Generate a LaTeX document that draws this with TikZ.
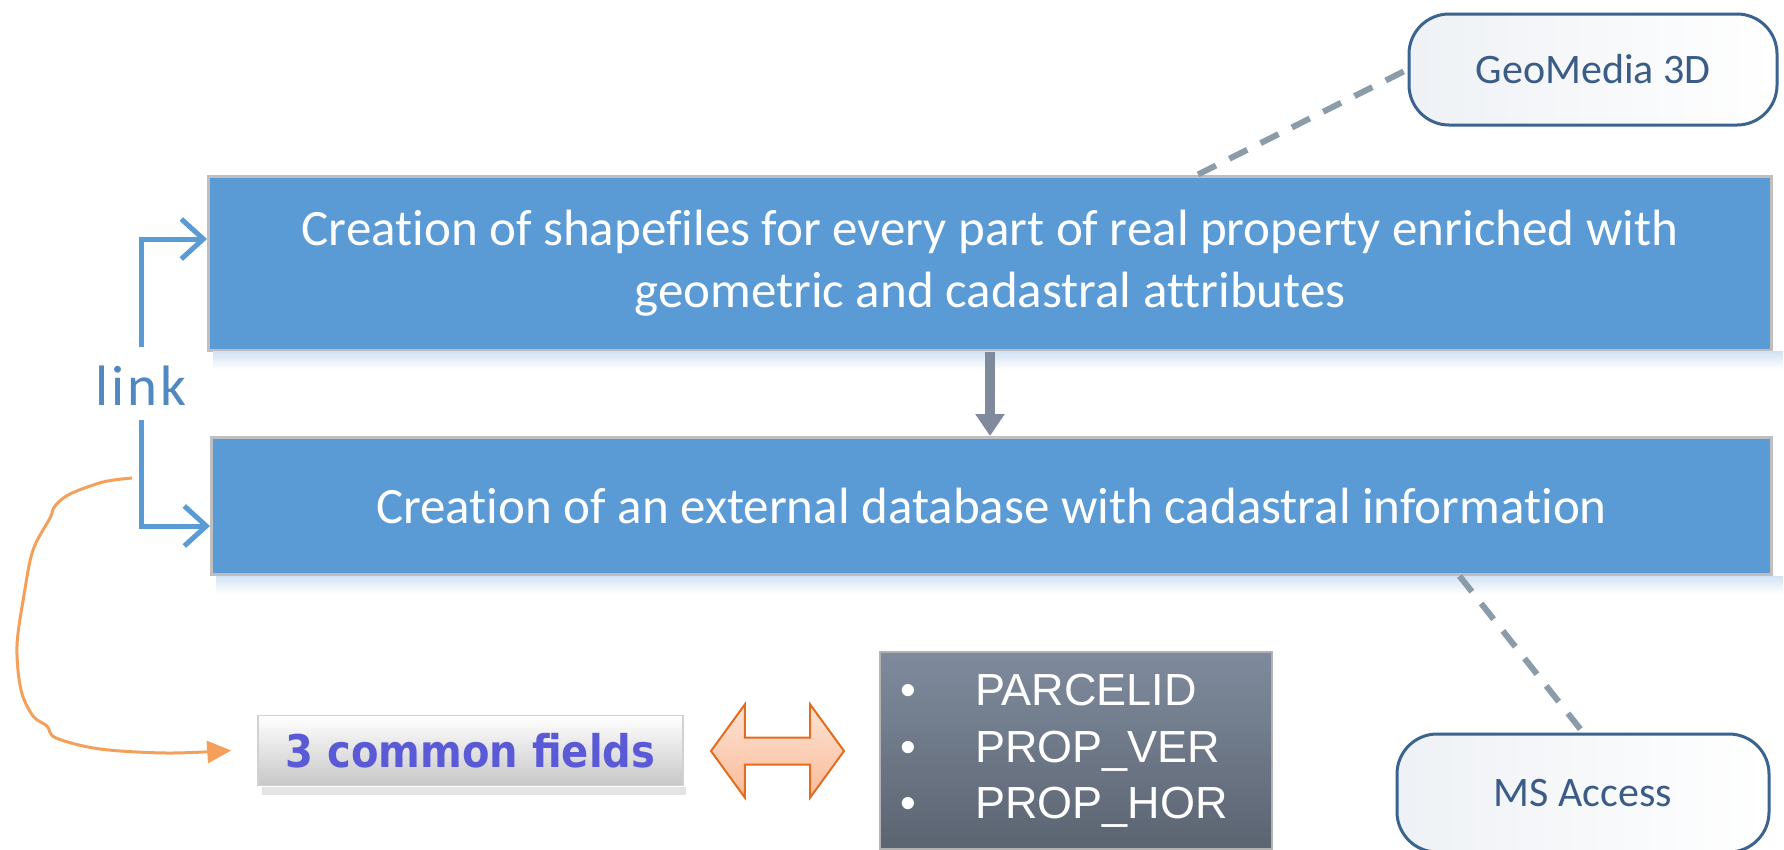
\documentclass[tikz,border=0pt]{standalone}
\usepackage{fontspec}
\setmainfont{Carlito}[Ligatures={NoCommon,NoRequired,NoContextual}]
\newfontfamily\linkfont{Carlito}[LetterSpace=5]
\newfontfamily\arialf{Liberation Sans}
\newfontfamily\verdf{DejaVu Sans}
\usetikzlibrary{arrows.meta,shapes.arrows,calc}
\definecolor{boxblue}{HTML}{5B9BD5}
\definecolor{boxborder}{HTML}{BFBFBF}
\definecolor{linkblue}{HTML}{5B9BD5}
\definecolor{linktext}{HTML}{4F89C0}
\definecolor{arrowgray}{HTML}{7F8A9C}
\definecolor{dashgray}{HTML}{8A9BAA}
\definecolor{roundborder}{HTML}{3B6390}
\definecolor{roundtext}{HTML}{3A5C86}
\definecolor{fieldtext}{HTML}{5B5AD6}
\definecolor{orangeline}{HTML}{F5A05A}
\definecolor{darrowborder}{HTML}{E46C1E}
\definecolor{darrowtop}{HTML}{FDE3D4}
\definecolor{darrowbot}{HTML}{F9BB9A}
\definecolor{graytop}{HTML}{7F8B9D}
\definecolor{graybot}{HTML}{5B6471}
\definecolor{shadowblue}{HTML}{D3E2F3}
\definecolor{roundfill}{HTML}{EEF1F5}
\tikzset{
  bluebox/.style={draw=boxborder, line width=3pt, fill=boxblue, text=white,
    align=center, inner sep=0pt, font=\fontsize{51}{62}\selectfont},
  roundbox/.style={draw=roundborder, line width=3pt, rounded corners=40pt,
    left color=roundfill, right color=white, text=roundtext, inner sep=0pt,
    font=\fontsize{42}{50}\selectfont},
  dashline/.style={draw=dashgray, line width=6pt, dash pattern=on 20pt off 15pt},
  linkarrow/.style={draw=linkblue, line width=5pt,
    -{Straight Barb[length=22pt,width=40pt]}},
  grayarrow/.style={draw=arrowgray, line width=10pt,
    -{Triangle[length=22pt,width=28pt]}},
  orangecurve/.style={draw=orangeline, line width=3pt,
    -{Triangle[length=24pt,width=22pt]}},
  fieldsbox/.style={draw=black!18, line width=1.5pt, top color=white, bottom color=black!22,
    text=fieldtext, inner sep=0pt, font=\verdf\fontsize{45}{54}\selectfont\bfseries},
  darrowshape/.style={double arrow, draw=darrowborder, line width=2pt,
    top color=darrowtop, bottom color=darrowbot, inner xsep=0pt, inner ysep=12.5pt,
    double arrow head extend=33pt, double arrow tip angle=108, minimum height=133pt},
  graybox/.style={draw=black!30, line width=1.5pt, top color=graytop, bottom color=graybot,
    inner sep=0pt},
  listtext/.style={text=white, align=left, inner sep=0pt,
    font=\arialf\fontsize{45}{56.5}\selectfont}
}
\begin{document}
\begin{tikzpicture}[x=1pt,y=-1pt]
\useasboundingbox (0,0) rectangle (1784,849);
\fill[white] (0,0) rectangle (1784,849);

% main boxes
\node[bluebox, minimum width=1563pt, minimum height=174pt] (box1) at (990,263)
  {Creation of shapefiles for every part of real property enriched with\\geometric and cadastral attributes};
\node[bluebox, minimum width=1560pt, minimum height=137pt] (box2) at (991.5,506)
  {Creation of an external database with cadastral information};
% soft shadows
\shade[top color=shadowblue, bottom color=white] ($(box1.south west)+(6,0)$) rectangle ($(box1.south east)+(10,18)$);
\shade[top color=shadowblue, bottom color=white] ($(box2.south west)+(6,0)$) rectangle ($(box2.south east)+(10,18)$);

% arrow between boxes
\draw[grayarrow] (box1.south) -- (box1.south |- box2.north);

% link bracket
\node[text=linktext, inner sep=0pt, font=\linkfont\fontsize{57}{60}\selectfont] (link) at (141,386) {link};
\draw[linkarrow] ([yshift=19pt]link.north) |- ([yshift=24pt]box1.west);
\draw[linkarrow] ([yshift=-14pt]link.south) |- ([yshift=-20pt]box2.west);

% side tools
\node[roundbox, minimum width=368pt, minimum height=111pt] (geo) at (1593,69.5) {GeoMedia 3D};
\node[roundbox, minimum width=372pt, minimum height=118pt] (ms) at (1583,793) {MS Access};
\draw[dashline] ([xshift=208pt]box1.north) -- (geo.west);
\draw[dashline] ([xshift=468pt]box2.south) -- (ms.north);

% common fields
\fill[black!30, opacity=.35] (262,787) rectangle (686,795);
\node[fieldsbox, minimum width=425pt, minimum height=70pt] (fields) at (470.5,750.5) {\scalebox{0.89}[1]{3 common fields}};
\node[darrowshape] (dar) at (777.5,751) {};
\node[graybox, minimum width=392pt, minimum height=197pt] (list) at (1075.75,750.5) {};
\node[listtext, anchor=west] (items) at (900,751)
  {\makebox[75pt][l]{•}PARCELID\\\makebox[75pt][l]{•}PROP\_VER\\\makebox[75pt][l]{•}PROP\_HOR};

% orange curve
\coordinate (ostart) at (132,478);
\coordinate (otip) at ([xshift=-26pt]fields.west);
\draw[orangecurve] plot[smooth, tension=0.55] coordinates {(ostart) (103,482) (70,494) (55,506) (50,518) (33,550) (24,595) (17,646) (21,690) (33,716) (47,726) (56,738) (100,749) (167,753) (otip)};
\end{tikzpicture}
\end{document}
